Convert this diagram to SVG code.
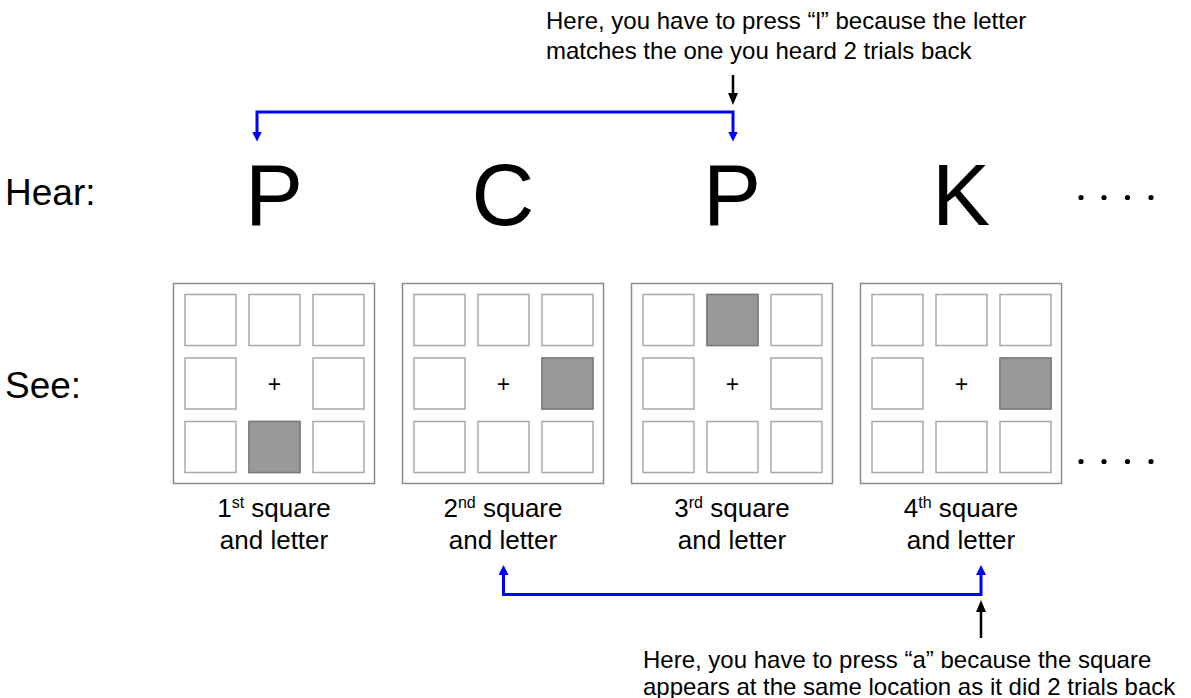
<svg xmlns="http://www.w3.org/2000/svg" width="1191" height="698" viewBox="0 0 1191 698">
<defs>
<style>
text{font-family:"Liberation Sans",Arial,sans-serif;fill:#000}
.big{font-size:87px;text-anchor:middle}
.side{font-size:37px}
.note{font-size:24px}
.lbl{font-size:26px;text-anchor:middle}
.plus{font-size:23px;text-anchor:middle}
.outer{fill:#fff;stroke:#8c8c8c;stroke-width:1.5}
.cell{fill:#fff;stroke:#a9a9a9;stroke-width:1.5}
.on{fill:#999;stroke:#7a7a7a;stroke-width:1.5}
.blue{fill:none;stroke:#0000ff;stroke-width:3}
.blk{fill:none;stroke:#000;stroke-width:2.5}
</style>
<marker id="bh" viewBox="0 0 10 10" refX="2" refY="5" markerWidth="10" markerHeight="10" markerUnits="userSpaceOnUse" orient="auto-start-reverse"><path d="M0,0L10,5L0,10z" fill="#0000ff"/></marker>
<marker id="kh" viewBox="0 0 12 10" refX="2" refY="5" markerWidth="12" markerHeight="10" markerUnits="userSpaceOnUse" orient="auto"><path d="M0,0L12,5L0,10z" fill="#000"/></marker>
<g id="grid">
<rect class="cell" x="11.5" y="11" width="51" height="51"/>
<rect class="cell" x="75.5" y="11" width="51" height="51"/>
<rect class="cell" x="139.5" y="11" width="51" height="51"/>
<rect class="cell" x="11.5" y="74.5" width="51" height="51"/>
<rect class="cell" x="139.5" y="74.5" width="51" height="51"/>
<rect class="cell" x="11.5" y="138" width="51" height="51"/>
<rect class="cell" x="75.5" y="138" width="51" height="51"/>
<rect class="cell" x="139.5" y="138" width="51" height="51"/>
<text class="plus" x="101" y="108">+</text>
</g>
</defs>

<g id="labels">
<text class="side" x="5" y="205">Hear:</text>
<text class="side" x="5" y="398">See:</text>
</g>

<g id="letters">
<text class="big" x="274" y="225">P</text>
<text class="big" x="503" y="225">C</text>
<text class="big" x="732" y="225">P</text>
<text class="big" x="961" y="225">K</text>
</g>

<g id="panel1">
<rect class="outer" x="173.5" y="283.5" width="201" height="200"/>
<use href="#grid" x="173.5" y="283.5"/>
<rect class="on" x="249" y="421.5" width="51" height="51"/>
<text class="lbl" x="274" y="517">1<tspan font-size="16" dy="-9">st</tspan><tspan dy="9"> square</tspan></text>
<text class="lbl" x="274" y="549">and letter</text>
</g>

<g id="panel2">
<rect class="outer" x="402.5" y="283.5" width="201" height="200"/>
<use href="#grid" x="402.5" y="283.5"/>
<rect class="on" x="542" y="358" width="51" height="51"/>
<text class="lbl" x="503" y="517">2<tspan font-size="16" dy="-9">nd</tspan><tspan dy="9"> square</tspan></text>
<text class="lbl" x="503" y="549">and letter</text>
</g>

<g id="panel3">
<rect class="outer" x="631.5" y="283.5" width="201" height="200"/>
<use href="#grid" x="631.5" y="283.5"/>
<rect class="on" x="707" y="294.5" width="51" height="51"/>
<text class="lbl" x="732" y="517">3<tspan font-size="16" dy="-9">rd</tspan><tspan dy="9"> square</tspan></text>
<text class="lbl" x="732" y="549">and letter</text>
</g>

<g id="panel4">
<rect class="outer" x="860.5" y="283.5" width="201" height="200"/>
<use href="#grid" x="860.5" y="283.5"/>
<rect class="on" x="1000" y="358" width="51" height="51"/>
<text class="lbl" x="961" y="517">4<tspan font-size="16" dy="-9">th</tspan><tspan dy="9"> square</tspan></text>
<text class="lbl" x="961" y="549">and letter</text>
</g>

<g id="dots" fill="#000">
<circle cx="1081" cy="197.5" r="2.6"/><circle cx="1104" cy="197.5" r="2.6"/><circle cx="1127.5" cy="197.5" r="2.6"/><circle cx="1151" cy="197.5" r="2.6"/>
<circle cx="1081" cy="461.5" r="2.6"/><circle cx="1104" cy="461.5" r="2.6"/><circle cx="1127.5" cy="461.5" r="2.6"/><circle cx="1151" cy="461.5" r="2.6"/>
</g>

<g id="notes">
<text class="note" x="546" y="29">Here, you have to press “l” because the letter</text>
<text class="note" x="546" y="59">matches the one you heard 2 trials back</text>
<text class="note" x="643" y="668">Here, you have to press “a” because the square</text>
<text class="note" x="643" y="695">appears at the same location as it did 2 trials back</text>
</g>

<g id="connectors">
<path class="blue" d="M733,133.5V112H257V133.5" marker-start="url(#bh)" marker-end="url(#bh)"/>
<path class="blue" d="M981,573V594.5H503.5V573" marker-start="url(#bh)" marker-end="url(#bh)"/>
<path class="blk" d="M733,75V95" marker-end="url(#kh)"/>
<path class="blk" d="M981,638V610" marker-end="url(#kh)"/>
</g>
</svg>
